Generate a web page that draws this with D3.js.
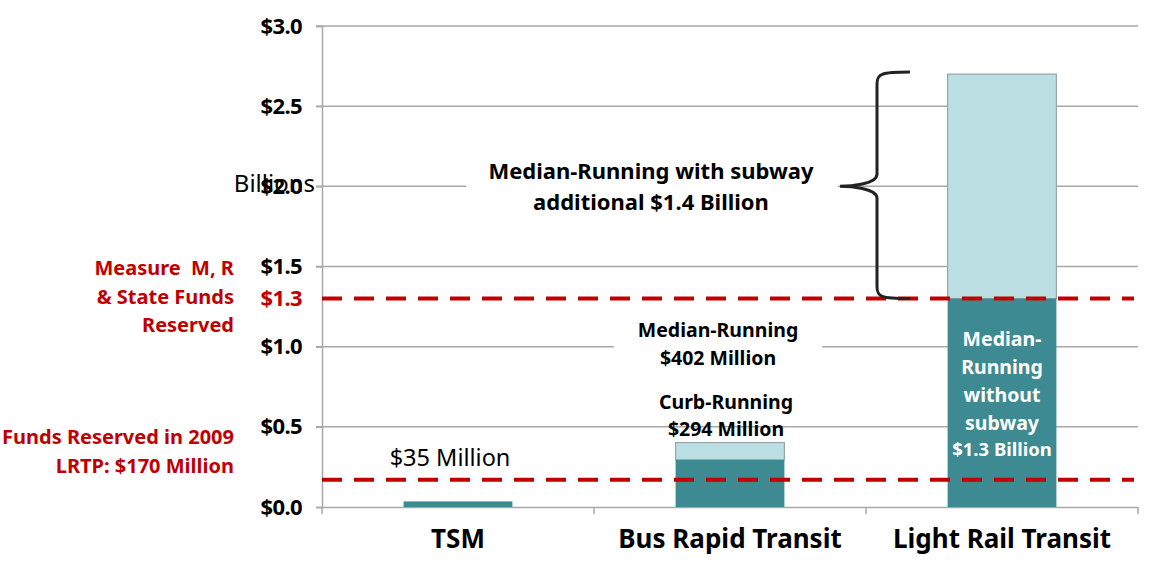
<!DOCTYPE html>
<html>
<head>
<meta charset="utf-8">
<script src="https://cdn.jsdelivr.net/npm/d3@7"></script>
<style>
  body { margin: 0; background: #fff; }
  svg text { font-family: "Noto Sans", "Open Sans", sans-serif; }
</style>
</head>
<body>
<div id="chart"></div>
<script>
// chart data
const categories = ["TSM", "Bus Rapid Transit", "Light Rail Transit"];
const baseValues = [0.035, 0.294, 1.3];   // dark segment
const extraValues = [0, 0.108, 1.4];      // light segment on top
const yTicks = [0, 0.5, 1.0, 1.5, 2.0, 2.5, 3.0];
const reserveLines = [1.3, 0.17];

const width = 1159, height = 577;
const plotLeft = 322, plotRight = 1138, plotTop = 26, plotBottom = 507;

const svg = d3.select("#chart").append("svg")
  .attr("width", width)
  .attr("height", height);

const x = d3.scaleBand().domain(categories).range([plotLeft, plotRight]).padding(0);
const y = d3.scaleLinear().domain([0, 3]).range([plotBottom, plotTop]);
const barW = x.bandwidth() * 0.4;

// gridlines
svg.append("g")
  .selectAll("line")
  .data(yTicks.filter((d) => d > 0))
  .join("line")
  .attr("x1", plotLeft - 6)
  .attr("x2", plotRight)
  .attr("y1", (d) => y(d))
  .attr("y2", (d) => y(d))
  .attr("stroke", "#a8a8a8")
  .attr("stroke-width", 1.5);

// y axis
const yAxis = svg.append("g")
  .attr("transform", `translate(${plotLeft},0)`)
  .call(d3.axisLeft(y).tickValues(yTicks).tickSize(6).tickPadding(14)
    .tickFormat((d) => "$" + d3.format(".1f")(d)));
yAxis.selectAll("path, line").attr("stroke", "#a8a8a8").attr("stroke-width", 1.5);
yAxis.selectAll("text")
  .attr("font-size", 22).attr("font-weight", "bold").attr("fill", "#000")
  .attr("letter-spacing", -0.6);

// x axis
const xAxis = svg.append("g")
  .attr("transform", `translate(0,${plotBottom})`)
  .call(d3.axisBottom(x).tickSize(0).tickPadding(23));
xAxis.select("path").attr("stroke", "#a8a8a8").attr("stroke-width", 1.5);
xAxis.selectAll("text")
  .attr("font-size", 26).attr("font-weight", "bold").attr("fill", "#000");
// category boundary ticks
svg.append("g")
  .selectAll("line")
  .data(categories.concat(["end"]))
  .join("line")
  .attr("x1", (d, i) => i < categories.length ? x(d) : plotRight)
  .attr("x2", (d, i) => i < categories.length ? x(d) : plotRight)
  .attr("y1", plotBottom)
  .attr("y2", plotBottom + 7)
  .attr("stroke", "#a8a8a8")
  .attr("stroke-width", 1.5);

// "Billions" axis title (sits over the $2.0 label as in the original)
svg.append("text")
  .attr("x", 315).attr("y", 184).attr("dy", "0.35em")
  .attr("text-anchor", "end")
  .attr("font-size", 24)
  .text("Billions");

// label helper, optional white box behind the text
function labelBlock(lines, cx, y0, lh, size, opts = {}) {
  const g = svg.append("g");
  const t = g.append("text")
    .attr("text-anchor", "middle")
    .attr("font-size", size)
    .attr("font-weight", opts.weight || "bold")
    .attr("fill", opts.fill || "#000");
  lines.forEach((l, i) => {
    t.append("tspan").attr("x", cx).attr("y", y0 + i * lh).attr("dy", "0.35em").text(l);
  });
  if (opts.bg) {
    const b = t.node().getBBox();
    g.insert("rect", "text")
      .attr("x", b.x - opts.bg[0]).attr("y", b.y - 4)
      .attr("width", b.width + opts.bg[0] + opts.bg[1]).attr("height", b.height + 8)
      .attr("fill", "#fff");
  }
  return t;
}

// bars
const rows = categories.map((c, i) => ({ c, base: baseValues[i], extra: extraValues[i] }));
svg.append("g")
  .selectAll("rect")
  .data(rows.filter((d) => d.extra > 0))
  .join("rect")
  .attr("x", (d) => x(d.c) + (x.bandwidth() - barW) / 2)
  .attr("width", barW)
  .attr("y", (d) => y(d.base + d.extra))
  .attr("height", (d) => y(d.base) - y(d.base + d.extra))
  .attr("fill", "#bbdfe3")
  .attr("stroke", "#9aa4a6")
  .attr("stroke-width", 1.2);
svg.append("g")
  .selectAll("rect")
  .data(rows)
  .join("rect")
  .attr("x", (d) => x(d.c) + (x.bandwidth() - barW) / 2)
  .attr("width", barW)
  .attr("y", (d) => y(d.base))
  .attr("height", (d) => y(0) - y(d.base))
  .attr("fill", "#3e8a92");

// annotations
const lrtCx = x(categories[2]) + x.bandwidth() / 2;
labelBlock(["Median-Running with subway", "additional $1.4 Billion"], 651, 171, 31, 22, { bg: [22, 24] });
labelBlock(["Median-Running", "$402 Million"], 718, 330, 28, 19.5, { bg: [24, 24] });
labelBlock(["Curb-Running", "$294 Million"], 726, 402, 27, 19.5);
labelBlock(["$35 Million"], 450, 458, 0, 23.5, { weight: "normal" });
labelBlock(["Median-", "Running", "without", "subway"], lrtCx, 339, 28, 19.5, { fill: "#fff" });
labelBlock(["$1.3 Billion"], lrtCx, 450, 0, 18.5, { fill: "#fff" });

// reserve lines
svg.append("g")
  .selectAll("line")
  .data(reserveLines)
  .join("line")
  .attr("x1", plotLeft)
  .attr("x2", plotRight - 4)
  .attr("y1", (d) => y(d))
  .attr("y2", (d) => y(d))
  .attr("stroke", "#c00000")
  .attr("stroke-width", 4)
  .attr("stroke-dasharray", "20 12");

// $1.3 red tick label
svg.append("text")
  .attr("x", plotLeft - 20).attr("y", y(reserveLines[0])).attr("dy", "0.35em")
  .attr("text-anchor", "end")
  .attr("font-size", 22).attr("font-weight", "bold").attr("fill", "#c00000")
  .attr("letter-spacing", -0.6)
  .text("$1.3");

// left red captions
const redCaption = (lines, y0) => {
  const t = svg.append("text")
    .attr("text-anchor", "end")
    .attr("font-size", 20).attr("font-weight", "bold").attr("fill", "#c00000");
  lines.forEach((l, i) => {
    t.append("tspan").attr("x", 234).attr("y", y0 + i * 28.5).attr("dy", "0.35em")
      .style("white-space", "pre").text(l);
  });
};
redCaption(["Measure  M, R", "& State Funds", "Reserved"], 268);
redCaption(["Funds Reserved in 2009", "LRTP: $170 Million"], 437);

// curly brace for the subway increment
const bx = 877, tipX = 840;
const yTop = y(baseValues[2] + extraValues[2]) - 2, yBot = y(baseValues[2]), yMid = y(2.0);
const brace = d3.path();
brace.moveTo(910, yTop);
brace.bezierCurveTo(880, yTop, bx, yTop + 2, bx, yTop + 12);
brace.lineTo(bx, yMid - 12);
brace.bezierCurveTo(bx, yMid - 2, tipX + 10, yMid, tipX, yMid);
brace.bezierCurveTo(tipX + 10, yMid, bx, yMid + 2, bx, yMid + 12);
brace.lineTo(bx, yBot - 12);
brace.bezierCurveTo(bx, yBot - 2, 880, yBot, 910, yBot);
svg.append("path")
  .attr("d", brace.toString())
  .attr("fill", "none")
  .attr("stroke", "#222")
  .attr("stroke-width", 3);
</script>
</body>
</html>
